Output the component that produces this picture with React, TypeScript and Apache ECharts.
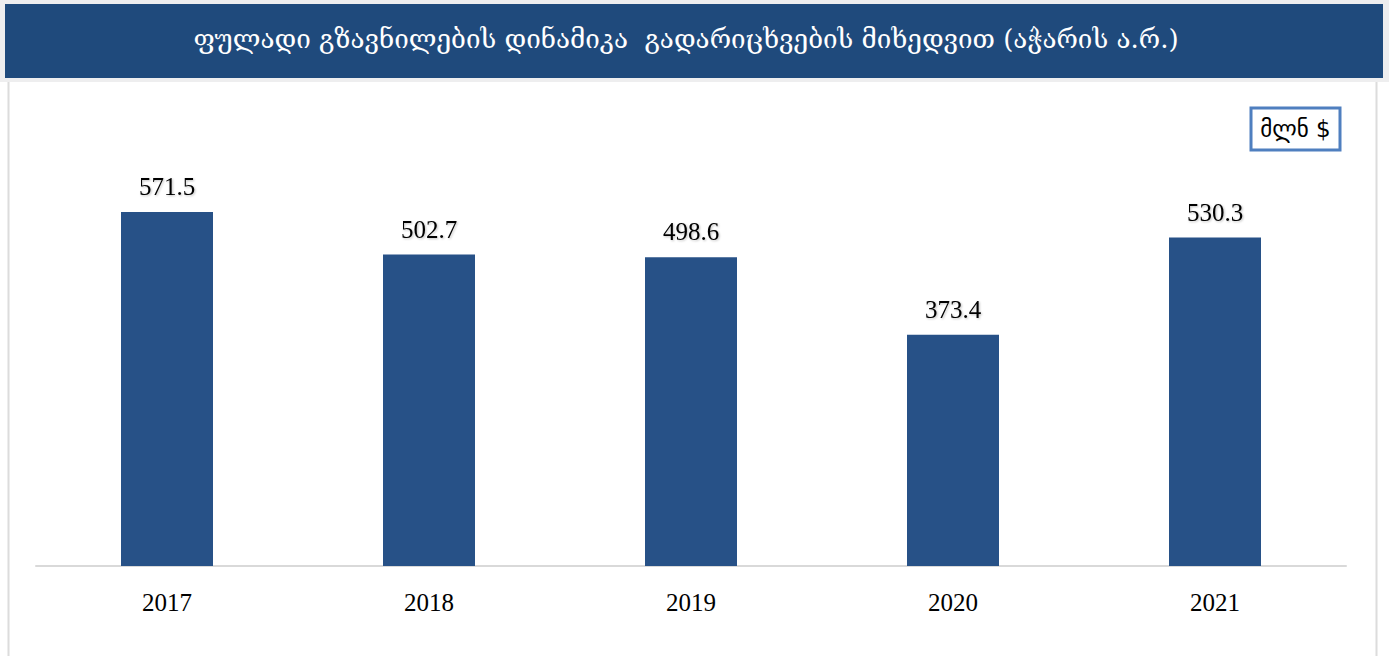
import React, { useEffect, useRef } from "react";
import * as echarts from "echarts";

const titleText = "ფულადი გზავნილების დინამიკა  გადარიცხვების მიხედვით (აჭარის ა.რ.)";
const unitText = "მლნ $";
const years = ["2017", "2018", "2019", "2020", "2021"];
const values = [571.5, 502.7, 498.6, 373.4, 530.3];

export default function App() {
  const ref = useRef<HTMLDivElement>(null);
  useEffect(() => {
    if (!ref.current) return;
    const chart = echarts.init(ref.current, null, { renderer: "svg" });
    chart.setOption({
      animation: false,
      backgroundColor: "#ffffff",
      title: {
        text: titleText,
        left: 681,
        textAlign: "center",
        top: 21,
        textStyle: {
          color: "#ffffff",
          fontSize: 26,
          fontWeight: "normal",
          fontFamily: "DejaVu Serif, DejaVu Sans, serif",
        },
        z: 10,
      },
      graphic: [
        { type: "rect", shape: { x: 0, y: 0, width: 1389, height: 82 }, style: { fill: "#eeeeef" }, z: -10 },
        { type: "rect", shape: { x: 5, y: 4, width: 1378, height: 74 }, style: { fill: "#1f4a7c" }, z: -9 },
        { type: "line", shape: { x1: 8.5, y1: 82, x2: 8.5, y2: 656 }, style: { stroke: "#dcdcdc", lineWidth: 2 } },
        { type: "line", shape: { x1: 1376.5, y1: 82, x2: 1376.5, y2: 656 }, style: { stroke: "#dcdcdc", lineWidth: 2 } },
        {
          type: "rect",
          shape: { x: 1251, y: 108, width: 89, height: 42 },
          style: { fill: "#ffffff", stroke: "#4f7fbf", lineWidth: 3 },
        },
        {
          type: "text",
          x: 1295.5,
          y: 129,
          style: {
            text: unitText,
            fill: "#000000",
            fontSize: 23,
            fontFamily: "DejaVu Sans, sans-serif",
            align: "center",
            verticalAlign: "middle",
          },
        },
      ],
      grid: { left: 36, right: 43, top: 132.4, bottom: 90 },
      xAxis: {
        type: "category",
        data: years,
        axisLine: { show: true, lineStyle: { color: "#d9d9d9", width: 2 } },
        axisTick: { show: false },
        axisLabel: {
          color: "#000000",
          fontSize: 25,
          fontFamily: "Liberation Serif, Times New Roman, serif",
          margin: 24,
        },
      },
      yAxis: {
        type: "value",
        min: 0,
        max: 700,
        show: false,
        splitLine: { show: false },
      },
      series: [
        {
          type: "bar",
          data: values,
          barWidth: 92,
          itemStyle: { color: "#275187" },
          label: {
            show: true,
            position: "top",
            distance: 13,
            color: "#000000",
            fontSize: 25,
            fontFamily: "Liberation Serif, Times New Roman, serif",
            formatter: (p: any) => p.value.toFixed(1),
            textShadowColor: "rgba(0,0,0,0.25)",
            textShadowBlur: 2,
            textShadowOffsetX: 1,
            textShadowOffsetY: 1,
          },
        },
      ],
    });
    return () => chart.dispose();
  }, []);
  return (
    <div
      ref={ref}
      style={{ position: "fixed", left: 0, top: 0, width: 1389, height: 656 }}
    />
  );
}
